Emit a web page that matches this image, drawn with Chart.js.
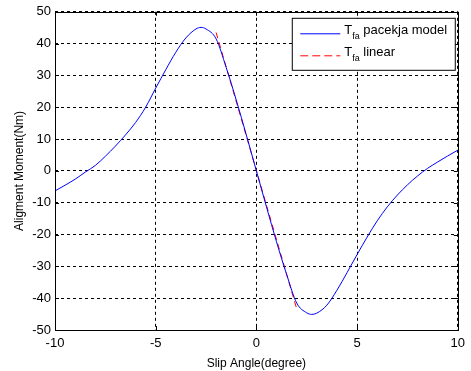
<!DOCTYPE html>
<html>
<head>
<meta charset="utf-8">
<script src="https://cdn.jsdelivr.net/npm/chart.js@4"></script>
<style>
  html, body { margin: 0; padding: 0; background: #fff; }
  #wrap { width: 471px; height: 371px; }
</style>
</head>
<body>
<div id="wrap"><canvas id="chart" width="471" height="371"></canvas></div>
<script>
// slip angle (degree) and aligning moment (Nm)
const slipAngle = [-10, -9.5, -9, -8.5, -8, -7.5, -7, -6.5, -6, -5.5, -5, -4.5, -4, -3.5, -3, -2.75, -2.5, -2, -1.5, -1, -0.5,
                   0, 0.5, 1, 1.5, 2, 2.5, 2.75, 3, 3.5, 4, 4.5, 5, 5.5, 6, 6.5, 7, 7.5, 8, 8.5, 9, 9.5, 10];
const pacejkaMoment = [-6.3, -4.5, -2.6, -0.4, 1.7, 4.6, 7.8, 11.3, 15.2, 20.0, 26.0, 31.8, 37.3, 41.8, 44.6, 45.1, 44.6, 41.5, 32.5, 22.3, 11.3,
                       0, -11.3, -22.3, -32.5, -41.5, -44.6, -45.1, -44.7, -42.2, -37.5, -32.0, -26.3, -20.8, -15.7, -11.3, -7.6, -4.4, -1.6, 0.8, 2.8, 4.7, 6.5];
const linearAngle = [-2, 2];
const linearMoment = [43.5, -43.3];
const xTicks = [-10, -5, 0, 5, 10];
const yTicks = [-50, -40, -30, -20, -10, 0, 10, 20, 30, 40, 50];

const toPoints = (xs, ys) => xs.map((x, i) => ({ x: x, y: ys[i] }));
const FONT = 'Liberation Sans, Arial, sans-serif';

// MATLAB style box, inward ticks and legend with subscripts
const matlabFrame = {
    id: 'matlabFrame',
    afterDatasetsDraw(chart) {
        const { ctx, chartArea: a, scales } = chart;
        ctx.save();
        ctx.strokeStyle = '#000';
        ctx.lineWidth = 1;
        ctx.setLineDash([]);
        ctx.strokeRect(Math.round(a.left) + 0.5, Math.round(a.top) + 0.5, Math.round(a.right - a.left), Math.round(a.bottom - a.top));
        ctx.beginPath();
        xTicks.forEach(v => {
            const px = Math.round(scales.x.getPixelForValue(v)) + 0.5;
            ctx.moveTo(px, a.bottom); ctx.lineTo(px, a.bottom - 4);
            ctx.moveTo(px, a.top); ctx.lineTo(px, a.top + 4);
        });
        yTicks.forEach(v => {
            const py = Math.round(scales.y.getPixelForValue(v)) + 0.5;
            ctx.moveTo(a.left, py); ctx.lineTo(a.left + 4, py);
            ctx.moveTo(a.right, py); ctx.lineTo(a.right - 4, py);
        });
        ctx.stroke();

        // legend
        const bx = a.right - 165.5, by = a.top + 6.5, bw = 163, bh = 52;
        ctx.fillStyle = '#fff';
        ctx.fillRect(bx, by, bw, bh);
        ctx.strokeRect(bx, by, bw, bh);
        const rows = [
            { color: '#0000ff', dash: [], label: ' pacekja model', y: by + 15 },
            { color: '#ff0000', dash: [8, 4], label: ' linear', y: by + 37 }
        ];
        rows.forEach(r => {
            ctx.strokeStyle = r.color;
            ctx.setLineDash(r.dash);
            ctx.beginPath();
            ctx.moveTo(bx + 8, r.y + 0.5);
            ctx.lineTo(bx + 48, r.y + 0.5);
            ctx.stroke();
            ctx.fillStyle = '#000';
            ctx.textBaseline = 'alphabetic';
            ctx.textAlign = 'left';
            let tx = bx + 52;
            ctx.font = '13px ' + FONT;
            ctx.fillText('T', tx, r.y + 1);
            tx += ctx.measureText('T').width;
            ctx.font = '9px ' + FONT;
            ctx.fillText('fa', tx, r.y + 6);
            tx += ctx.measureText('fa').width;
            ctx.font = '13px ' + FONT;
            ctx.fillText(r.label, tx, r.y + 1);
        });
        ctx.restore();
    }
};

new Chart(document.getElementById('chart'), {
    type: 'scatter',
    data: {
        datasets: [
            {
                label: 'Tfa pacekja model',
                data: toPoints(slipAngle, pacejkaMoment),
                showLine: true,
                borderColor: '#0000ff',
                borderWidth: 1,
                pointRadius: 0,
                cubicInterpolationMode: 'monotone'
            },
            {
                label: 'Tfa linear',
                data: toPoints(linearAngle, linearMoment),
                showLine: true,
                borderColor: '#ff0000',
                borderWidth: 1,
                borderDash: [6, 4],
                pointRadius: 0
            }
        ]
    },
    options: {
        responsive: false,
        animation: false,
        layout: { padding: { left: 0, top: 9, right: 7, bottom: 0 } },
        plugins: { legend: { display: false }, tooltip: { enabled: false } },
        scales: {
            x: {
                type: 'linear', min: -10, max: 10,
                afterBuildTicks: s => { s.ticks = xTicks.map(v => ({ value: v })); },
                afterFit: s => { s.height = 41; },
                border: { display: false, dash: [3, 3] },
                grid: { color: '#000', lineWidth: 1, drawTicks: false },
                ticks: { color: '#000', font: { family: FONT, size: 13 }, padding: 6, maxRotation: 0 },
                title: { display: true, text: 'Slip Angle(degree)', color: '#000', font: { family: FONT, size: 12 }, padding: { top: 1, bottom: 0 } }
            },
            y: {
                type: 'linear', min: -50, max: 50,
                afterBuildTicks: s => { s.ticks = yTicks.map(v => ({ value: v })); },
                afterFit: s => { s.width = 55; },
                border: { display: false, dash: [3, 3] },
                grid: { color: '#000', lineWidth: 1, drawTicks: false },
                ticks: { color: '#000', font: { family: FONT, size: 13 }, padding: 4 },
                title: { display: true, text: 'Aligment Moment(Nm)', color: '#000', font: { family: FONT, size: 12 }, padding: { top: 12, bottom: 0 } }
            }
        }
    },
    plugins: [matlabFrame]
});
</script>
</body>
</html>
